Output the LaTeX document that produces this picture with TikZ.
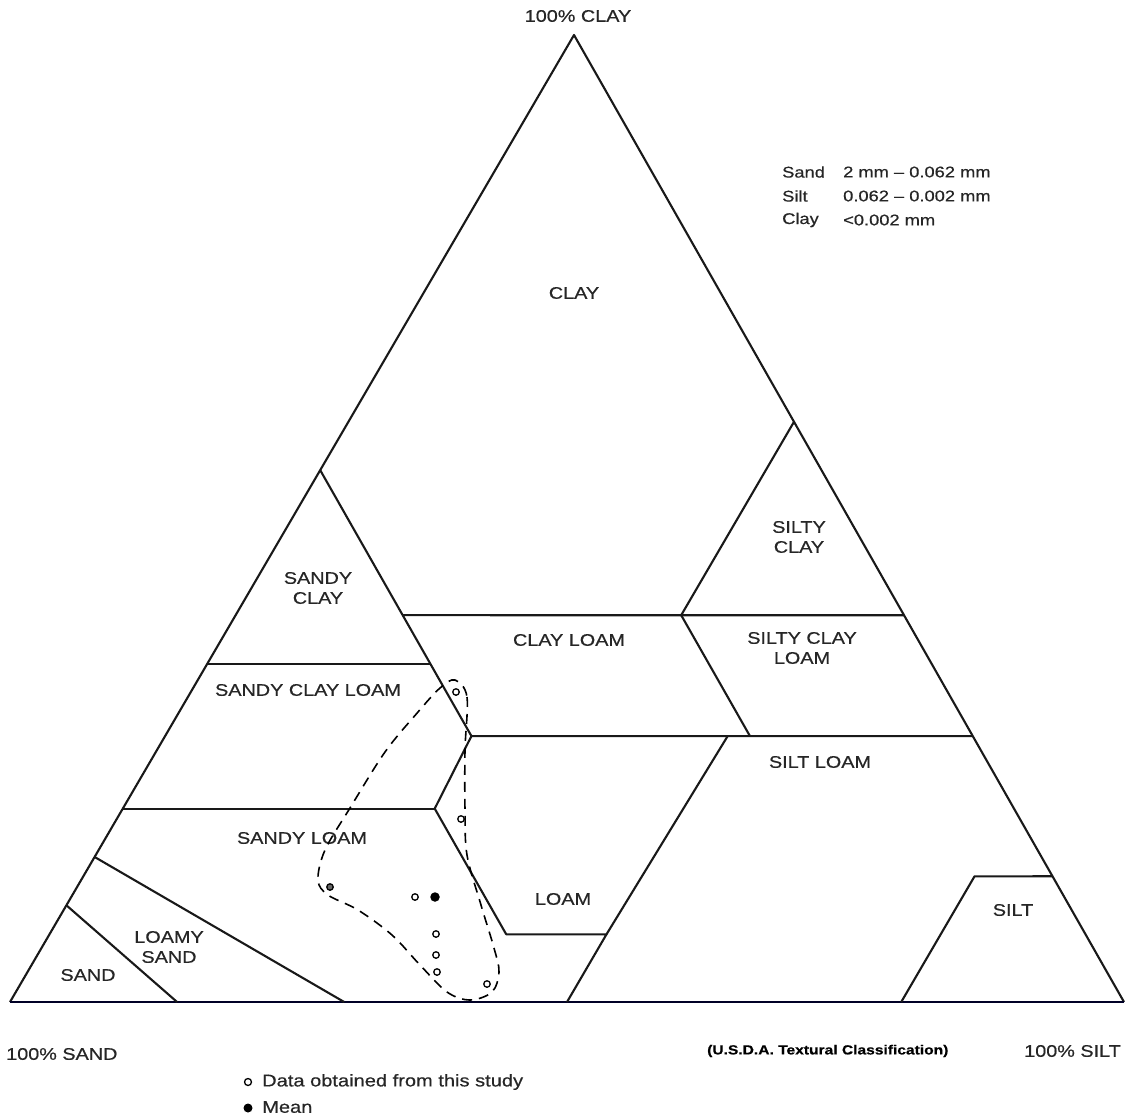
\documentclass[tikz,border=0pt]{standalone}
\usepackage{fontspec}
\setmainfont{Liberation Sans}[FakeStretch=1.18,FakeBold=0.5]
\begin{document}
\begin{tikzpicture}[x=1pt,y=-1pt,line join=round,
  reg/.style={line width=2.1pt,draw=black!90},
  base/.style={line width=2.8pt,draw=black!85!blue},
  lab/.style={font=\fontsize{16.8}{20}\selectfont,align=center,inner sep=0pt,text=black!85},
  small/.style={font=\fontsize{15.5}{19}\selectfont,inner sep=0pt,text=black!85,anchor=west},
  datum/.style={circle,draw=black,line width=1.3pt,minimum size=6.5pt,inner sep=0pt},
  meanpt/.style={circle,fill=black,minimum size=9.5pt,inner sep=0pt},
  contour/.style={line width=1.6pt,dash pattern=on 10pt off 7pt}]
\useasboundingbox (0,0) rectangle (1126,1118);
% vertices
\coordinate (S) at (10,1002);
\coordinate (T) at (1124,1002);
\coordinate (C) at (574,35);
% class boundary points (sand, silt, clay)
\coordinate (clayA) at (barycentric cs:S=0.45,T=0.15,C=0.40);
\coordinate (clayB) at (barycentric cs:S=0.20,T=0.40,C=0.40);
\coordinate (scTop) at (barycentric cs:S=0.45,T=0,C=0.55);
\coordinate (sicTop) at (barycentric cs:S=0,T=0.40,C=0.60);
\coordinate (sicR) at (barycentric cs:S=0,T=0.60,C=0.40);
\coordinate (sc35L) at (barycentric cs:S=0.65,T=0,C=0.35);
\coordinate (sc35R) at (barycentric cs:S=0.45,T=0.20,C=0.35);
\coordinate (cl27L) at (barycentric cs:S=0.45,T=0.275,C=0.275);
\coordinate (cl27M) at (barycentric cs:S=0.20,T=0.525,C=0.275);
\coordinate (cl27N) at (barycentric cs:S=0.22,T=0.505,C=0.275);
\coordinate (cl27R) at (barycentric cs:S=0,T=0.725,C=0.275);
\coordinate (scl20L) at (barycentric cs:S=0.80,T=0,C=0.20);
\coordinate (scl20R) at (barycentric cs:S=0.52,T=0.28,C=0.20);
\coordinate (lo7L) at (barycentric cs:S=0.52,T=0.41,C=0.07);
\coordinate (lo7R) at (barycentric cs:S=0.43,T=0.50,C=0.07);
\coordinate (silt50) at (barycentric cs:S=0.50,T=0.50,C=0);
\coordinate (silt80) at (barycentric cs:S=0.20,T=0.80,C=0);
\coordinate (siltTop) at (barycentric cs:S=0.07,T=0.80,C=0.13);
\coordinate (siltR) at (barycentric cs:S=0,T=0.87,C=0.13);
\coordinate (ls1) at (barycentric cs:S=0.70,T=0.30,C=0);
\coordinate (ls2) at (barycentric cs:S=0.85,T=0,C=0.15);
\coordinate (sd1) at (barycentric cs:S=0.85,T=0.15,C=0);
\coordinate (sd2) at (barycentric cs:S=0.90,T=0,C=0.10);
% outer triangle
\draw[reg] (S) -- (C) -- (T);
\draw[base] (S) -- (T);
% boundaries
\draw[reg] (scTop) -- (clayA) -- (cl27L) -- (scl20R) -- (lo7L) -- (lo7R) -- (silt50);
\draw[reg] (sc35L) -- (sc35R);
\draw[reg] (clayA) -- (sicR);
\draw[reg] (sicTop) -- (clayB) -- (cl27M);
\draw[reg] (cl27L) -- (cl27R);
\draw[reg] (lo7R) -- (cl27N);
\draw[reg] (scl20L) -- (scl20R);
\draw[reg] (ls1) -- (ls2);
\draw[reg] (sd1) -- (sd2);
\draw[reg] (silt80) -- (siltTop) -- (siltR);
% labels
\node[lab] (lclay) at (574,293) {CLAY};
\node[lab] (lsic) at (799,537) {SILTY\\CLAY};
\node[lab] (lsicl) at (802,648) {SILTY CLAY\\LOAM};
\node[lab] (lsc) at (318,588) {SANDY\\CLAY};
\node[lab] (lscl) at (308,690) {SANDY CLAY LOAM};
\node[lab] (lcl) at (569,640) {CLAY LOAM};
\node[lab] (lloam) at (563,899) {LOAM};
\node[lab] (lsl) at (302,838) {SANDY LOAM};
\node[lab] (lsil) at (820,762) {SILT LOAM};
\node[lab] (lls) at (169,947) {LOAMY\\SAND};
\node[lab] (lsand) at (88,975) {SAND};
\node[lab] (lsilt) at (1013,910) {SILT};
\node[lab] (vclay) at (578,16) {100\% CLAY};
\node[lab,anchor=west] (vsand) at (6,1054) {100\% SAND};
\node[lab,anchor=east] (vsilt) at (1121,1051) {100\% SILT};
\node[font=\fontsize{13.2}{15}\bfseries\selectfont,inner sep=0pt,anchor=west] (usda) at (707,1051) {(U.S.D.A. Textural Classification)};
% size table
\node[small] (tsand) at (782,172) {Sand};
\node[small] (tsilt) at (782,196) {Silt};
\node[small] (tclay) at (782,220) {Clay};
\node[small] (vsa) at (843,172) {2 mm -- 0.062 mm};
\node[small] (vsi) at (843,196) {0.062 -- 0.002 mm};
\node[small] (vcl) at (843,220) {<0.002 mm};
% data
\node[datum] (d1) at (456,692) {};
\node[datum] (d2) at (461,819) {};
\node[datum,fill=black!60] (d3) at (330,887) {};
\node[datum] (d4) at (415,897) {};
\node[meanpt] (m1) at (435,897) {};
\node[datum] (d5) at (436,934) {};
\node[datum] (d6) at (436,955) {};
\node[datum] (d7) at (437,972) {};
\node[datum] (d8) at (487,984) {};
% contour
\draw[contour] plot[smooth cycle,tension=0.55] coordinates {
 (455,680) (467,697) (465,750) (465,810) (467,855) (481,905) (494,948) (499,972) (492,992) (470,1000) (447,992) (420,965) (392,935) (358,910) (328,895) (318,880) (325,850) (350,808) (385,752) (418,712) (440,688)};
% legend
\node[datum,minimum size=7pt] (ld) at (248,1082) {};
\node[meanpt,minimum size=9pt] (lm) at (248,1108) {};
\node[small,font=\fontsize{17}{20}\selectfont] (ldt) at (262,1082) {Data obtained from this study};
\node[small,font=\fontsize{17}{20}\selectfont] (lmt) at (262,1107) {Mean};
\end{tikzpicture}
\end{document}
